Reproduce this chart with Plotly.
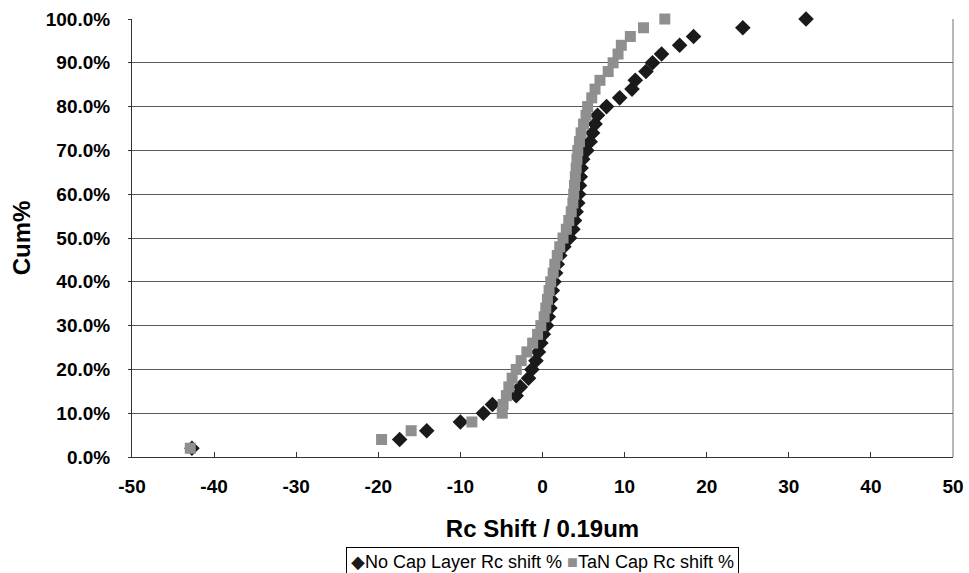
import plotly.graph_objects as go

cum_pct = [2, 4, 6, 8, 10, 12, 14, 16, 18, 20, 22, 24, 26, 28, 30, 32, 34, 36, 38, 40,
           42, 44, 46, 48, 50, 52, 54, 56, 58, 60, 62, 64, 66, 68, 70, 72, 74, 76, 78, 80,
           82, 84, 86, 88, 90, 92, 94, 96, 98, 100]

no_cap_shift = [-42.7, -17.4, -14.1, -10.0, -7.2, -6.1, -3.2, -2.7, -1.7, -1.3,
                -0.8, -0.5, -0.2, 0.1, 0.5, 0.7, 0.9, 1.0, 1.2, 1.4,
                1.6, 1.8, 2.1, 2.6, 3.3, 3.7, 3.9, 4.1, 4.3, 4.4,
                4.5, 4.6, 4.7, 4.9, 5.4, 5.8, 6.1, 6.4, 6.7, 7.8,
                9.4, 10.9, 11.3, 12.6, 13.4, 14.5, 16.7, 18.4, 24.4, 32.1]

tan_cap_shift = [-42.9, -19.6, -16.0, -8.6, -4.9, -4.8, -4.4, -4.1, -3.7, -3.2,
                 -2.6, -1.9, -1.2, -0.6, -0.2, 0.2, 0.4, 0.6, 0.8, 1.0,
                 1.3, 1.5, 1.8, 2.1, 2.5, 2.9, 3.2, 3.5, 3.7, 3.8,
                 3.9, 4.0, 4.1, 4.2, 4.3, 4.5, 4.7, 5.0, 5.3, 5.5,
                 6.0, 6.4, 7.0, 8.0, 8.6, 9.2, 9.6, 10.7, 12.3, 14.9]

series_names = ["No Cap Layer Rc shift %", "TaN Cap Rc shift %"]
series_colors = ["#1a1a1a", "#8f8f8f"]

x_ticks = [-50, -40, -30, -20, -10, 0, 10, 20, 30, 40, 50]
y_ticks = [0, 10, 20, 30, 40, 50, 60, 70, 80, 90, 100]

FONT = "Liberation Sans, Arial, sans-serif"

fig = go.Figure()
fig.add_trace(go.Scatter(
    x=no_cap_shift, y=cum_pct, mode="markers", name=series_names[0],
    cliponaxis=False, showlegend=False,
    marker=dict(symbol="diamond", size=12, color=series_colors[0], line=dict(width=0)),
))
fig.add_trace(go.Scatter(
    x=tan_cap_shift, y=cum_pct, mode="markers", name=series_names[1],
    cliponaxis=False, showlegend=False,
    marker=dict(symbol="square", size=11, color=series_colors[1], line=dict(width=0)),
))

# right border of plot area
fig.add_shape(type="line", xref="paper", yref="paper", x0=1, x1=1, y0=0, y1=1,
              line=dict(color="#a0a0a0", width=1.5), layer="below")

# Excel-style legend box (as text), below the axis title
legend_text = (f'<span style="color:{series_colors[0]}">\u25C6</span>{series_names[0]} '
               f'<span style="color:{series_colors[1]}">\u25A0</span>{series_names[1]}')
fig.add_annotation(
    text=legend_text, xref="paper", yref="paper", x=0.5, xanchor="center",
    y=-0.2055, yanchor="top", showarrow=False,
    font=dict(size=18, family=FONT, color="black"),
    bordercolor="black", borderwidth=1, borderpad=4, bgcolor="white",
)

fig.update_layout(
    width=969, height=573,
    margin=dict(l=132, r=16, t=19, b=116, autoexpand=False),
    paper_bgcolor="white", plot_bgcolor="white",
    font=dict(family=FONT, color="black"),
    showlegend=False,
    xaxis=dict(
        range=[-50, 50], tickmode="array", tickvals=x_ticks,
        ticktext=[str(v) for v in x_ticks], automargin=False,
        showgrid=False, zeroline=False,
        showline=True, linecolor="#333333", linewidth=1,
        ticks="inside", ticklen=5, tickcolor="#333333",
        ticklabelstandoff=12,
        tickfont=dict(size=19, family=FONT, weight="bold"),
        title=dict(text="<b>Rc Shift / 0.19um</b>", font=dict(size=24, family=FONT), standoff=24),
    ),
    yaxis=dict(
        range=[0, 100], tickmode="array", tickvals=y_ticks,
        ticktext=[f"{v:.1f}%" for v in y_ticks], automargin=False,
        showgrid=True, gridcolor="#5a5a5a", gridwidth=1, zeroline=False,
        showline=True, linecolor="#333333", linewidth=1,
        ticks="outside", ticklen=3, tickcolor="#333333",
        ticklabelstandoff=14,
        tickfont=dict(size=19, family=FONT, weight="bold"),
        title=dict(text="<b>Cum%</b>", font=dict(size=24, family=FONT), standoff=8),
    ),
)

fig.write_html("out.html")
